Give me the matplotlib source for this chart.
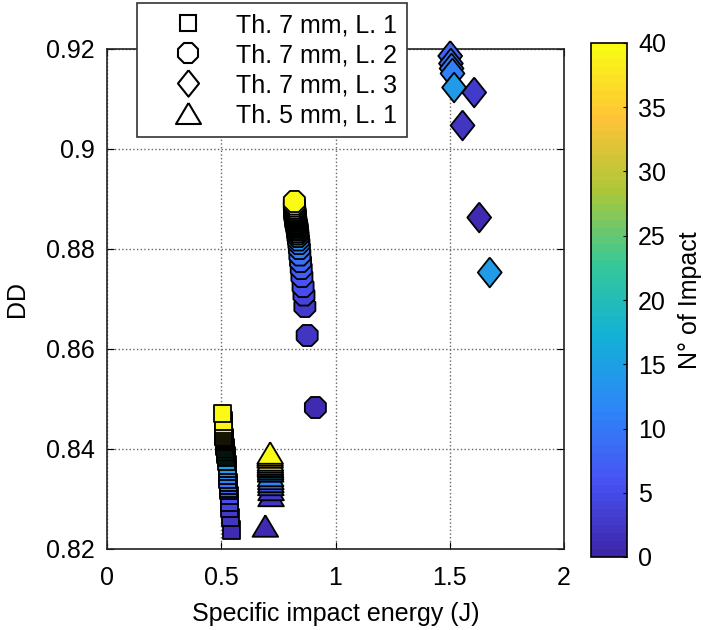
import numpy as np
import matplotlib
matplotlib.use('Agg')
import matplotlib.pyplot as plt
from matplotlib.colors import LinearSegmentedColormap
from matplotlib.lines import Line2D

plt.rcParams['font.family'] = ['Liberation Sans', 'DejaVu Sans']
plt.rcParams['font.size'] = 18

# Th. 7 mm, L. 1 (squares)
sq_imp = list(range(1, 41))
sq_x = [0.545, 0.540, 0.538, 0.536, 0.535, 0.533, 0.532, 0.531, 0.530, 0.529,
        0.528, 0.527, 0.527, 0.526, 0.524, 0.522, 0.521, 0.520, 0.519, 0.518,
        0.518, 0.517, 0.516, 0.516, 0.515, 0.515, 0.514, 0.514, 0.513, 0.513,
        0.512, 0.512, 0.511, 0.511, 0.510, 0.510, 0.509, 0.509, 0.508, 0.507]
sq_y = [0.8238, 0.8263, 0.8281, 0.8293, 0.8307, 0.8317, 0.8322, 0.8327, 0.8333, 0.8340,
        0.8348, 0.8355, 0.8361, 0.8368, 0.8376, 0.8383, 0.8386, 0.8389, 0.8393, 0.8396,
        0.8399, 0.8402, 0.8405, 0.8409, 0.8413, 0.8415, 0.8417, 0.8419, 0.8421, 0.8423,
        0.8425, 0.8426, 0.8430, 0.8433, 0.8437, 0.8441, 0.8445, 0.8450, 0.8456, 0.8471]

# Th. 7 mm, L. 2 (octagons)
oc_imp = list(range(1, 41))
oc_x = [0.912, 0.876, 0.866, 0.862, 0.858, 0.853, 0.850, 0.847, 0.844, 0.842,
        0.840, 0.838, 0.836, 0.835, 0.834, 0.833, 0.832, 0.831, 0.830, 0.829,
        0.828, 0.827, 0.826, 0.826, 0.825, 0.825, 0.824, 0.824, 0.823, 0.823,
        0.823, 0.822, 0.822, 0.822, 0.821, 0.821, 0.821, 0.820, 0.820, 0.820]
oc_y = [0.8483, 0.8627, 0.8685, 0.8708, 0.8725, 0.8745, 0.8761, 0.8775, 0.8788, 0.8801,
        0.8811, 0.8818, 0.8825, 0.8830, 0.8834, 0.8838, 0.8841, 0.8844, 0.8846, 0.8848,
        0.8850, 0.8852, 0.8855, 0.8857, 0.8859, 0.8861, 0.8863, 0.8865, 0.8866, 0.8868,
        0.8870, 0.8871, 0.8873, 0.8874, 0.8876, 0.8879, 0.8882, 0.8886, 0.8890, 0.8895]

# Th. 7 mm, L. 3 (diamonds)
di_imp = [1, 2, 3, 8, 9, 10, 11, 14, 14]
di_x = [1.629, 1.556, 1.607, 1.502, 1.505, 1.508, 1.512, 1.519, 1.675]
di_y = [0.8863, 0.9047, 0.9113, 0.9186, 0.9171, 0.9161, 0.9151, 0.9123, 0.8753]

# Th. 5 mm, L. 1 (triangles)
tr_imp = [1, 2, 3, 5, 7, 9, 11, 13, 16, 19, 22, 25, 28, 31, 34, 37, 40]
tr_x = [0.693, 0.718, 0.718, 0.717, 0.717, 0.717, 0.716, 0.716, 0.716, 0.716,
        0.715, 0.715, 0.715, 0.715, 0.714, 0.714, 0.714]
tr_y = [0.8246, 0.8307, 0.8319, 0.8329, 0.8335, 0.8341, 0.8347, 0.8356, 0.8360, 0.8364,
        0.8367, 0.8370, 0.8374, 0.8378, 0.8384, 0.8388, 0.8392]

parula = LinearSegmentedColormap.from_list('parula', [
    (0.2422, 0.1504, 0.6603), (0.2810, 0.3228, 0.9579), (0.1786, 0.5289, 0.9682),
    (0.0689, 0.6948, 0.8394), (0.2161, 0.7843, 0.5923), (0.6720, 0.7793, 0.2227),
    (0.9970, 0.7659, 0.2199), (0.9769, 0.9839, 0.0805)], N=64)

diamond = [(0, 1), (0.8, 0), (0, -1), (-0.8, 0), (0, 1)]
triangle = [(0, 0.84), (1, -0.84), (-1, -0.84), (0, 0.84)]

fig = plt.figure(figsize=(7.03, 6.3), dpi=100)
ax = fig.add_axes([107/703, 1 - 549/630, 457/703, 500/630])
cax = fig.add_axes([591/703, 1 - 557/630, 36/703, 514/630])

kw = dict(cmap=parula, vmin=0, vmax=40, edgecolors='k', linewidths=1.3, clip_on=False, zorder=3)
ax.scatter(sq_x, sq_y, c=sq_imp, marker='s', s=150, **kw)
ax.scatter(oc_x, oc_y, c=oc_imp, marker='8', s=270, **kw)
sc = ax.scatter(di_x, di_y, c=di_imp, marker=diamond, s=460, **kw)
ax.scatter(tr_x, tr_y, c=tr_imp, marker=triangle, s=340, **kw)

ax.set_xlim(0, 2)
ax.set_ylim(0.82, 0.92)
ax.set_xticks([0, 0.5, 1, 1.5, 2])
ax.set_xticklabels(['0', '0.5', '1', '1.5', '2'])
ax.set_yticks([0.82, 0.84, 0.86, 0.88, 0.9, 0.92])
ax.set_yticklabels(['0.82', '0.84', '0.86', '0.88', '0.9', '0.92'])
ax.grid(True, linestyle=':', color='#666666', linewidth=1)
ax.set_axisbelow(True)
ax.tick_params(direction='in', length=5, top=True, right=True, labelsize=18, pad=9)
ax.tick_params(axis='x', pad=12)
for sp in ax.spines.values():
    sp.set_linewidth(1.2)
    sp.set_color('#222222')
ax.set_xlabel('Specific impact energy (J)', fontsize=18, labelpad=9)
ax.set_ylabel('DD', fontsize=18)
ax.yaxis.set_label_coords(-0.197, 0.5)
ax.yaxis.label.set_verticalalignment('center')

cb = fig.colorbar(sc, cax=cax)
cb.set_ticks(range(0, 41, 5))
cb.ax.tick_params(direction='in', length=3, labelsize=18, pad=8)
cb.outline.set_linewidth(1.2)
cb.set_label('N° of Impact', fontsize=18)
cb.ax.yaxis.set_label_coords(2.75, 0.5)
cb.ax.yaxis.label.set_verticalalignment('center')
cb.ax.yaxis.label.set_horizontalalignment('center')

handles = [
    Line2D([], [], linestyle='none', marker='s', markersize=12, mfc='white', mec='k', mew=1.5),
    Line2D([], [], linestyle='none', marker='8', markersize=15, mfc='white', mec='k', mew=1.5),
    Line2D([], [], linestyle='none', marker=diamond, markersize=19, mfc='white', mec='k', mew=1.5),
    Line2D([], [], linestyle='none', marker=triangle, markersize=18, mfc='white', mec='k', mew=1.5),
]
labels = ['Th. 7 mm, L. 1', 'Th. 7 mm, L. 2', 'Th. 7 mm, L. 3', 'Th. 5 mm, L. 1']
leg = fig.legend(handles, labels, loc='upper left', bbox_to_anchor=(137/703, 1 - 3/630),
                 bbox_transform=fig.transFigure, fancybox=False, framealpha=1,
                 edgecolor='#333333', fontsize=18, handlelength=3.3, handletextpad=0.25,
                 labelspacing=0.24, borderpad=0.4, borderaxespad=0)
leg.get_frame().set_linewidth(1.2)
leg.set_zorder(10)

fig.savefig('out.png', dpi=100)
